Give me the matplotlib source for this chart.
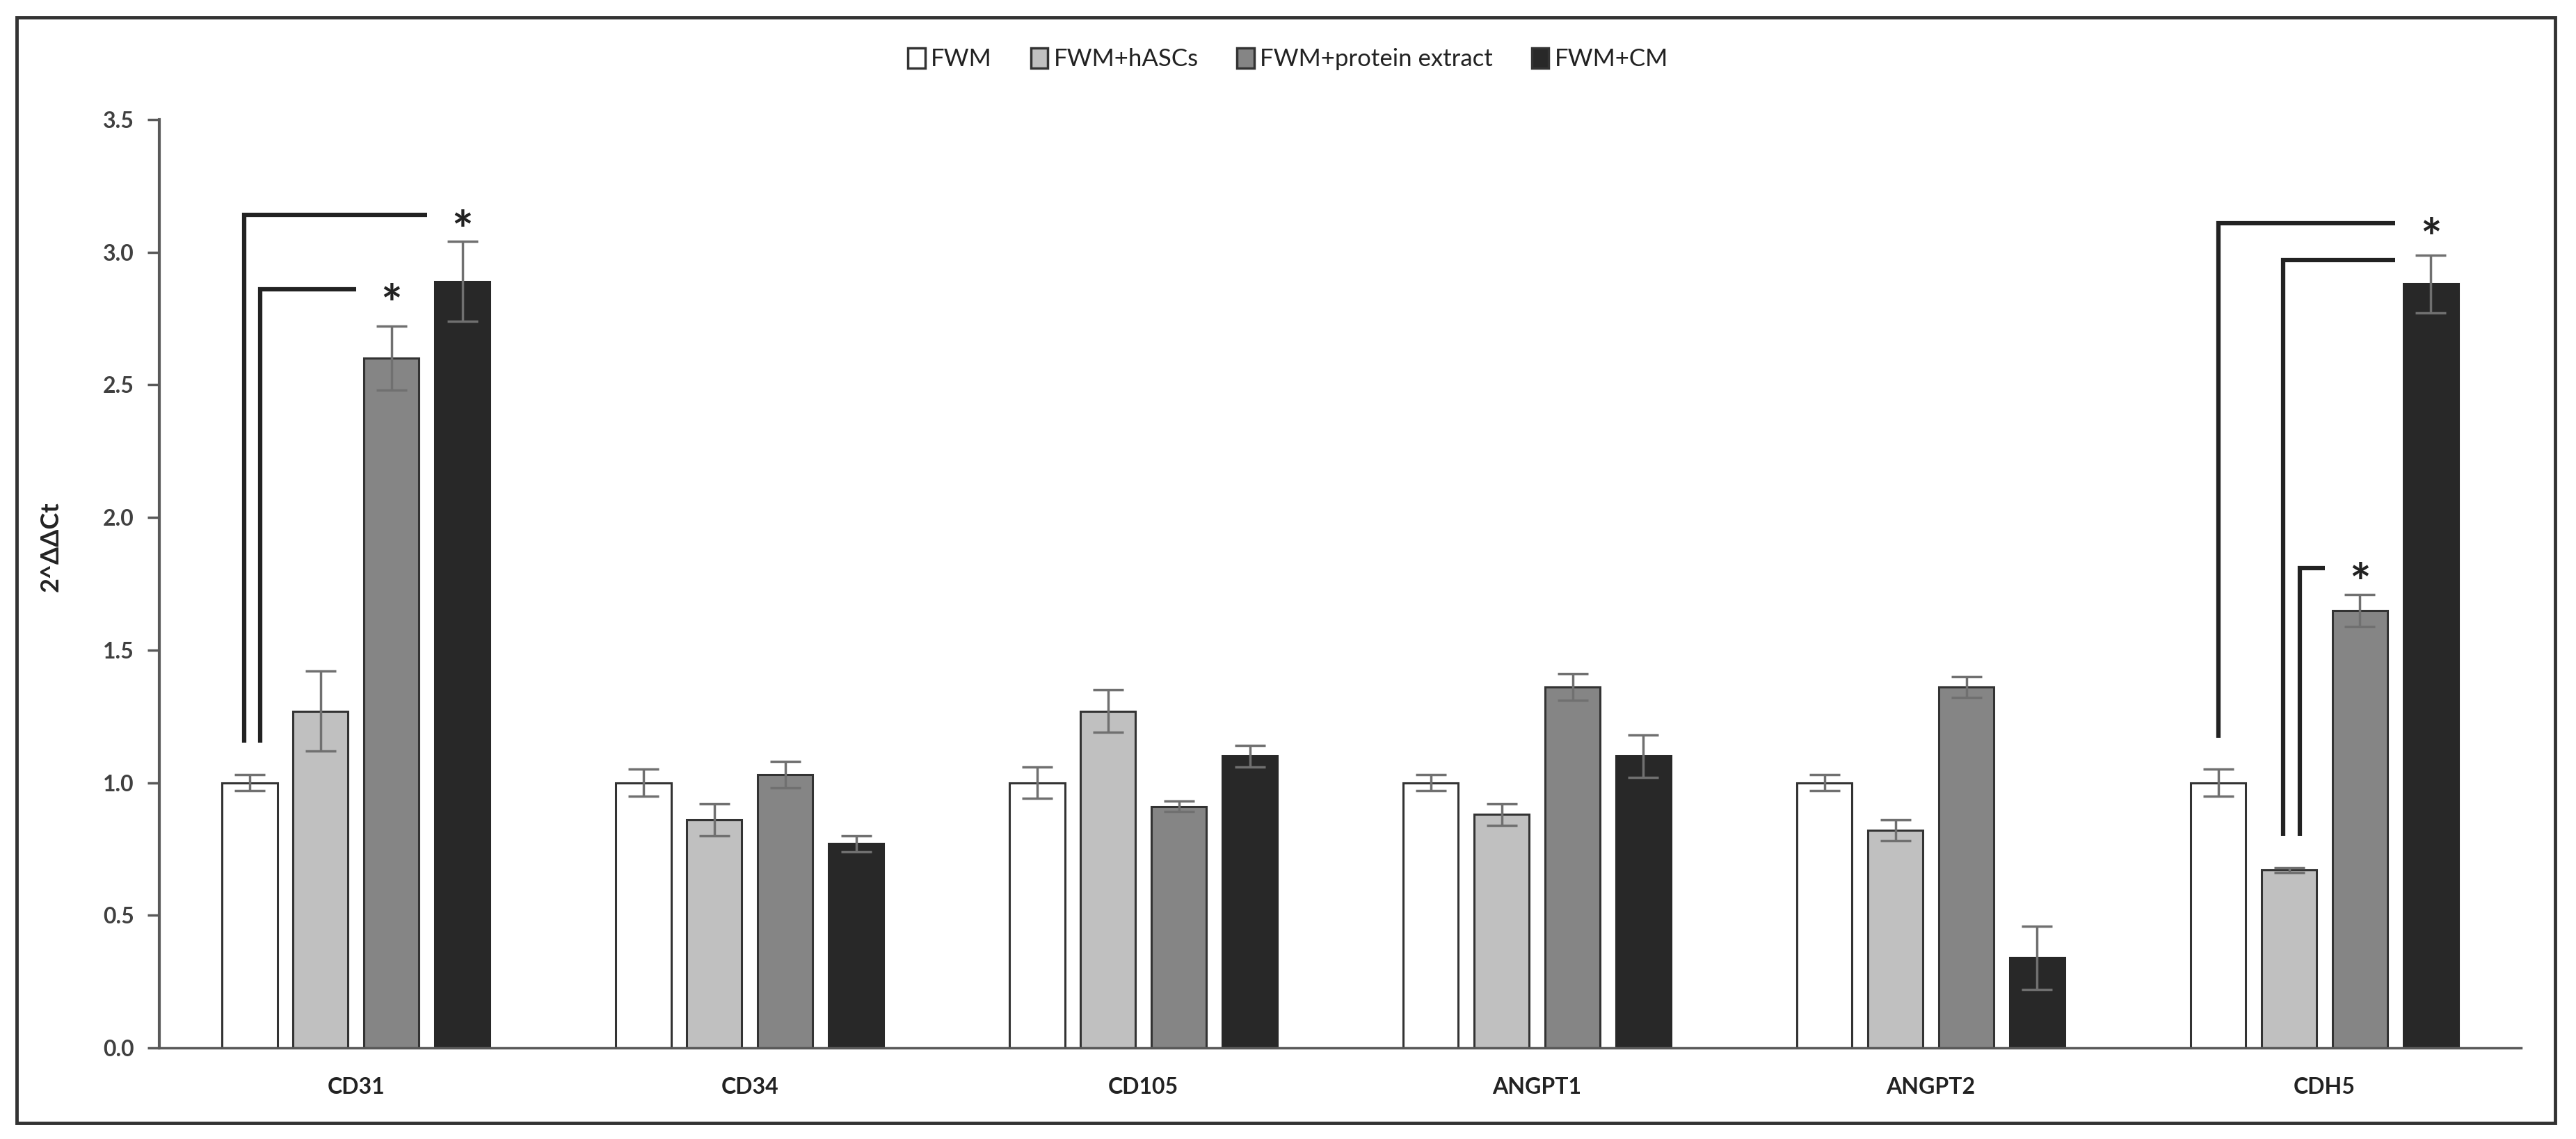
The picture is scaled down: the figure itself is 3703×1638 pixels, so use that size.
import numpy as np
import matplotlib.pyplot as plt
from matplotlib.patches import Rectangle, Patch

plt.rcParams['font.family'] = ['Lato', 'DejaVu Sans']

genes = ["CD31", "CD34", "CD105", "ANGPT1", "ANGPT2", "CDH5"]
groups = ["FWM", "FWM+hASCs", "FWM+protein extract", "FWM+CM"]

fwm = [1.00, 1.00, 1.00, 1.00, 1.00, 1.00]
fwm_err = [0.03, 0.05, 0.06, 0.03, 0.03, 0.05]
hascs = [1.27, 0.86, 1.27, 0.88, 0.82, 0.67]
hascs_err = [0.15, 0.06, 0.08, 0.04, 0.04, 0.01]
protein = [2.60, 1.03, 0.91, 1.36, 1.36, 1.65]
protein_err = [0.12, 0.05, 0.02, 0.05, 0.04, 0.06]
cm = [2.89, 0.77, 1.10, 1.10, 0.34, 2.88]
cm_err = [0.15, 0.03, 0.04, 0.08, 0.12, 0.11]

# significance brackets: (gene index, from group, to group, bracket height, star?)
brackets = [(0, 0, 3, 3.14, True), (0, 0, 2, 2.86, True),
            (5, 0, 3, 3.11, True), (5, 1, 3, 2.97, False), (5, 1, 2, 1.81, True)]

values = [fwm, hascs, protein, cm]
errors = [fwm_err, hascs_err, protein_err, cm_err]
colors = ["#ffffff", "#c0c0c0", "#858585", "#282828"]
edges = ["#333333", "#333333", "#333333", "#282828"]

width = 0.14
step = 0.18
x = np.arange(len(genes))

fig = plt.figure(figsize=(37.03, 16.38), dpi=100)
ax = fig.add_axes([0.0618, 0.080, 0.917, 0.815])

for j in range(4):
    pos = x + step * (j - 1.5)
    ax.bar(pos, values[j], width, color=colors[j], edgecolor=edges[j], linewidth=2.2,
           yerr=errors[j], error_kw=dict(ecolor="#707070", elinewidth=2.5, capsize=16, capthick=2.5))

# brackets
for g, a, b, h, star in brackets:
    n = sum(1 for br in brackets if br[0] == g and br[1] == a)
    higher = [br for br in brackets if br[0] == g and br[1] == a and br[3] > h]
    off = 0.0
    if n > 1:
        off = -0.015 if not higher else 0.027
    x0 = g + step * (a - 1.5) + off
    x1 = g + step * (b - 1.5) - width / 2 - 0.02
    y0 = values[a][g] + errors[a][g] + 0.12
    ax.plot([x0, x0, x1], [y0, h, h], color="#222222", lw=4.5, solid_capstyle="butt",
            solid_joinstyle="miter")
    if star:
        ax.text(g + step * (b - 1.5), h - 0.07, "*", ha="center", va="center",
                fontsize=52, fontweight="bold", color="#222222")

ax.set_xlim(-0.5, 5.5)
ax.set_ylim(0, 3.5)
ax.set_yticks(np.arange(0, 3.51, 0.5))
ax.set_yticklabels(["%.1f" % v for v in np.arange(0, 3.51, 0.5)], fontsize=23,
                   fontweight="bold", color="#404040")
ax.set_xticks(x)
ax.set_xticklabels(genes, fontsize=23, fontweight="bold", color="#222222")
ax.tick_params(axis="x", length=0, pad=30)
ax.tick_params(axis="y", length=12, width=2.5, color="#595959", pad=14, direction="out")
for s in ["top", "right"]:
    ax.spines[s].set_visible(False)
ax.spines["left"].set_color("#595959")
ax.spines["left"].set_linewidth(3)
ax.spines["bottom"].set_color("#595959")
ax.spines["bottom"].set_linewidth(2.5)
ax.set_ylabel("2^ΔΔCt", fontsize=26, fontweight="bold", color="#222222")
ax.yaxis.set_label_coords(-0.041, 0.54)

handles = [Patch(facecolor=colors[j], edgecolor="#333333", linewidth=2.5) for j in range(4)]
fig.legend(handles, groups, loc="center", bbox_to_anchor=(0.5, 0.948), ncol=4,
           frameon=False, fontsize=25, handlelength=0.7, handleheight=0.9,
           handletextpad=0.25, columnspacing=1.6, labelcolor="#222222")

fig.add_artist(Rectangle((0.0065, 0.014), 0.9855, 0.971, transform=fig.transFigure,
                         fill=False, edgecolor="#333333", linewidth=3.5))

fig.savefig("out.png", dpi=100)
